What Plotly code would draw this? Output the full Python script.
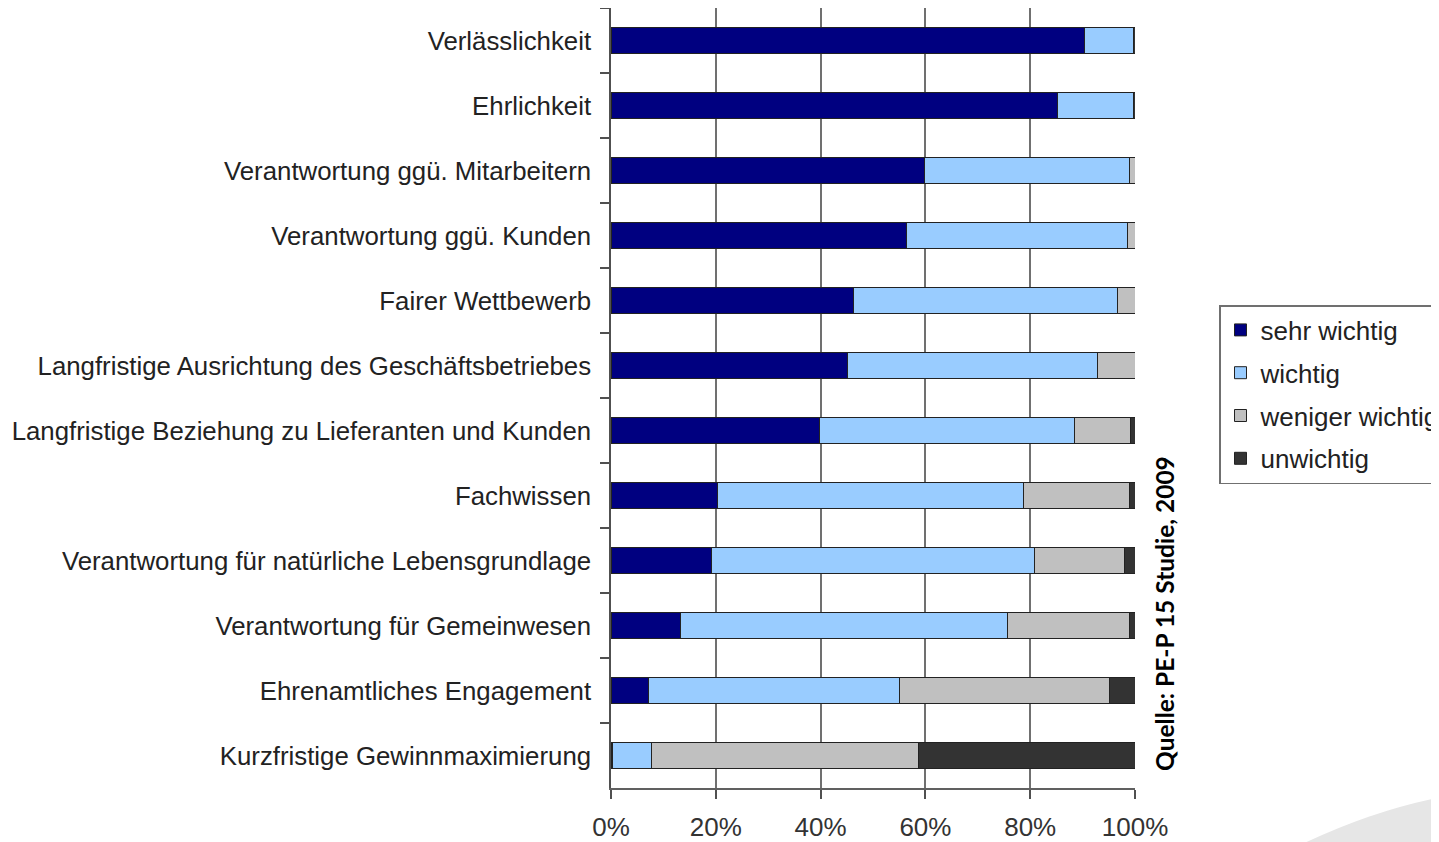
import plotly.graph_objects as go

categories = [
    "Verlässlichkeit",
    "Ehrlichkeit",
    "Verantwortung ggü. Mitarbeitern",
    "Verantwortung ggü. Kunden",
    "Fairer Wettbewerb",
    "Langfristige Ausrichtung des Geschäftsbetriebes",
    "Langfristige Beziehung zu Lieferanten und Kunden",
    "Fachwissen",
    "Verantwortung für natürliche Lebensgrundlage",
    "Verantwortung für Gemeinwesen",
    "Ehrenamtliches Engagement",
    "Kurzfristige Gewinnmaximierung",
]

sehr_wichtig = [90.4, 85.2, 59.8, 56.3, 46.3, 45.1, 39.8, 20.4, 19.2, 13.2, 7.1, 0.2]
wichtig = [9.4, 14.6, 39.1, 42.3, 50.3, 47.7, 48.6, 58.4, 61.7, 62.5, 48.0, 7.5]
weniger_wichtig = [0.0, 0.0, 1.1, 1.4, 3.4, 7.2, 10.8, 20.1, 17.1, 23.2, 40.0, 51.0]
unwichtig = [0.2, 0.2, 0.0, 0.0, 0.0, 0.0, 0.8, 1.1, 2.0, 1.1, 4.9, 41.3]

series_names = ["sehr wichtig", "wichtig", "weniger wichtig", "unwichtig"]
series_values = [sehr_wichtig, wichtig, weniger_wichtig, unwichtig]
series_colors = ["#000080", "#99CCFF", "#C0C0C0", "#333333"]

x_tickvals = [0, 20, 40, 60, 80, 100]
x_ticktext = ["0%", "20%", "40%", "60%", "80%", "100%"]

source_text = "Quelle: PE-P 15 Studie, 2009"

# figure geometry (the page adds an 8px body margin)
W, H = 1431, 834
ML, MR, MT, MB = 603, 304, 0, 54
PW, PH = W - ML - MR, H - MT - MB


def px_to_paper(px, py):
    # page pixel -> paper coords
    return ((px - 8 - ML) / PW, (H - MB - (py - 8)) / PH)


fig = go.Figure()
for i, (name, vals, col) in enumerate(zip(series_names, series_values, series_colors)):
    fig.add_trace(go.Bar(
        y=categories,
        x=vals,
        name=name,
        orientation="h",
        legendgroup=f"g{i}",
        marker=dict(color=col, line=dict(color="#222222", width=1)),
        hoverinfo="name+x",
    ))

# decorative swoosh at the bottom-right corner of the slide
p1 = px_to_paper(1290, 850)
p2 = px_to_paper(1370, 810)
p3 = px_to_paper(1447, 796)
p4 = px_to_paper(1447, 850)
swoosh = dict(
    type="path", xref="paper", yref="paper", layer="below",
    path=f"M {p1[0]},{p1[1]} Q {p2[0]},{p2[1]} {p3[0]},{p3[1]} L {p4[0]},{p4[1]} Z",
    fillcolor="#e6e6e6", line=dict(width=0),
)

leg_x, leg_y = px_to_paper(1219, 305)
src_x, src_y = px_to_paper(1164, 614)

fig.update_layout(
    barmode="stack",
    bargap=0.615,
    width=W,
    height=H,
    margin=dict(l=ML, r=MR, t=MT, b=MB, autoexpand=False),
    paper_bgcolor="white",
    plot_bgcolor="white",
    showlegend=True,
    legend=dict(
        x=leg_x, y=leg_y, xanchor="left", yanchor="top",
        font=dict(family="Liberation Sans, Arial, sans-serif", size=26, color="#222222"),
        bordercolor="#707070", borderwidth=1.5, bgcolor="white",
        traceorder="grouped", tracegroupgap=6, itemwidth=30,
    ),
    xaxis=dict(
        range=[0, 100],
        tickvals=x_tickvals,
        ticktext=x_ticktext,
        showgrid=True,
        gridcolor="#707070",
        gridwidth=1.5,
        zeroline=False,
        showline=True,
        linecolor="#606060",
        linewidth=1.5,
        mirror=True,
        ticks="outside",
        ticklen=9,
        tickwidth=1.5,
        tickcolor="#505050",
        ticklabelstandoff=6,
        tickfont=dict(family="Liberation Sans, Arial, sans-serif", size=26, color="#333333"),
    ),
    yaxis=dict(
        autorange="reversed",
        showgrid=False,
        zeroline=False,
        showline=True,
        linecolor="#505050",
        linewidth=1.5,
        ticks="outside",
        tickson="boundaries",
        ticklen=9,
        tickwidth=1.5,
        tickcolor="#505050",
        ticklabelstandoff=13,
        tickfont=dict(family="Liberation Sans, Arial, sans-serif", size=25.8, color="#222222"),
    ),
    shapes=[swoosh],
    annotations=[dict(
        text=f"<b>{source_text}</b>",
        xref="paper", yref="paper",
        x=src_x, y=src_y, xanchor="center", yanchor="middle",
        textangle=-90, showarrow=False,
        font=dict(family="Lato, sans-serif", size=24.5, color="#000000"),
    )],
)

fig.write_html("out.html")
